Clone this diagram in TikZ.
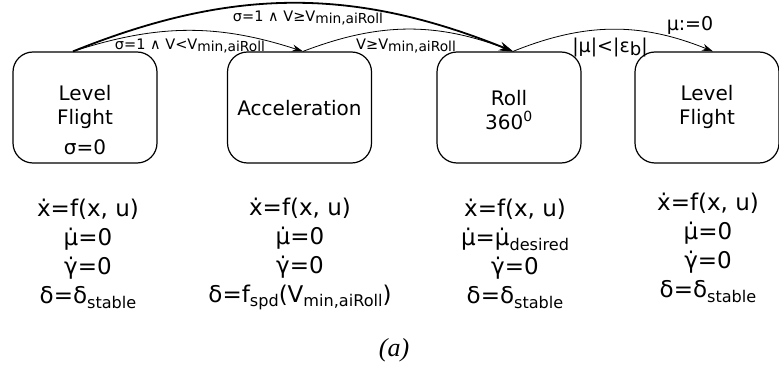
\documentclass[tikz,border=0pt]{standalone}
\usepackage{fontspec}
\setmainfont{DejaVu Sans}
\newfontfamily\capfont{Liberation Serif}
\usetikzlibrary{arrows.meta}
\newcommand{\lo}[2][0.7]{\raisebox{-0.35ex}{\scalebox{#1}{#2}}}
\tikzset{
  state/.style={draw, line width=1.2pt, rounded corners=20pt, minimum width=144pt, minimum height=111pt},
  boxtxt/.style={align=center, font=\fontsize{20}{24}\selectfont},
  eqn/.style={align=center, font=\fontsize{23}{29}\selectfont},
  lbl/.style={font=\fontsize{14.5}{16}\selectfont, inner sep=0pt},
  trans/.style={-{Stealth[length=11pt,width=7pt]}, line width=0.8pt}
}
\begin{document}
\begin{tikzpicture}[x=1pt,y=1pt]
  \useasboundingbox (0,0) rectangle (779,370);
  % Etats
  \node[state] (lf1) at (85,262.5) {};
  \node[state] (acc) at (299.5,262.5) {};
  \node[state] (roll) at (509,262.5) {};
  \node[state] (lf2) at (707,262.5) {};
  % Textes des etats
  \node[boxtxt] (lf1t) at (85,263.5) {Level\\Flight};
  \node[boxtxt] (sig) at (85,223) {σ=0};
  \node[boxtxt] (acct) at (299.5,262) {Acceleration};
  \node[boxtxt] (rollt) at (509,260) {Roll\\360\textsuperscript{0}};
  \node[boxtxt] (lf2t) at (707,263) {Level\\Flight};

  % Points d'accroche
  \coordinate (p1) at ([xshift=-12pt]lf1.north);
  \coordinate (p2) at ([xshift=3.5pt]acc.north);
  \coordinate (p3) at ([xshift=4pt]roll.north);
  \coordinate (p4) at ([xshift=6pt]lf2.north);

  % Transitions
  \draw[trans, line width=1.8pt, -{Stealth[length=14pt,width=9pt]}] (p1) to[bend left=22] (p3);
  \draw[trans] (p1) to[bend left=18] (p2);
  \draw[trans] (p2) to[bend left=21] (p3);
  \draw[trans] (p3) to[bend left=22] (p4);

  % Gardes
  \node[lbl] (g1) at (308,352) {σ=1 ∧ V≥V\lo[0.95]{min,aiRoll}};
  \node[lbl] (g2) at (190,324) {σ=1 ∧ V<V\lo[0.95]{min,aiRoll}};
  \node[lbl] (g3) at (406,324) {V≥V\lo[0.95]{min,aiRoll}};
  \node[lbl, font=\fontsize{19}{21}\selectfont] (g4) at (610,323) {|μ|<|ε\lo[0.95]{b}|};
  \node[lbl, font=\fontsize{19}{21}\selectfont] (g5) at (690,345) {μ:=0};

  % Dynamiques
  \node[eqn] (e1) at (88,116) {ẋ=f(x, u)\\μ̇=0\\γ̇=0\\δ=δ\lo{stable}};
  \node[eqn] (e2) at (300,116) {ẋ=f(x, u)\\μ̇=0\\γ̇=0\\δ=f\lo{spd}(V\lo{min,aiRoll})};
  \node[eqn] (e3) at (515,116) {ẋ=f(x, u)\\μ̇=μ̇\lo{desired}\\γ̇=0\\δ=δ\lo{stable}};
  \node[eqn] (e4) at (708,122) {ẋ=f(x, u)\\μ̇=0\\γ̇=0\\δ=δ\lo{stable}};

  % Legende
  \node[font=\capfont\itshape\fontsize{26}{30}\selectfont] (cap) at (394,20) {(a)};
\end{tikzpicture}
\end{document}
